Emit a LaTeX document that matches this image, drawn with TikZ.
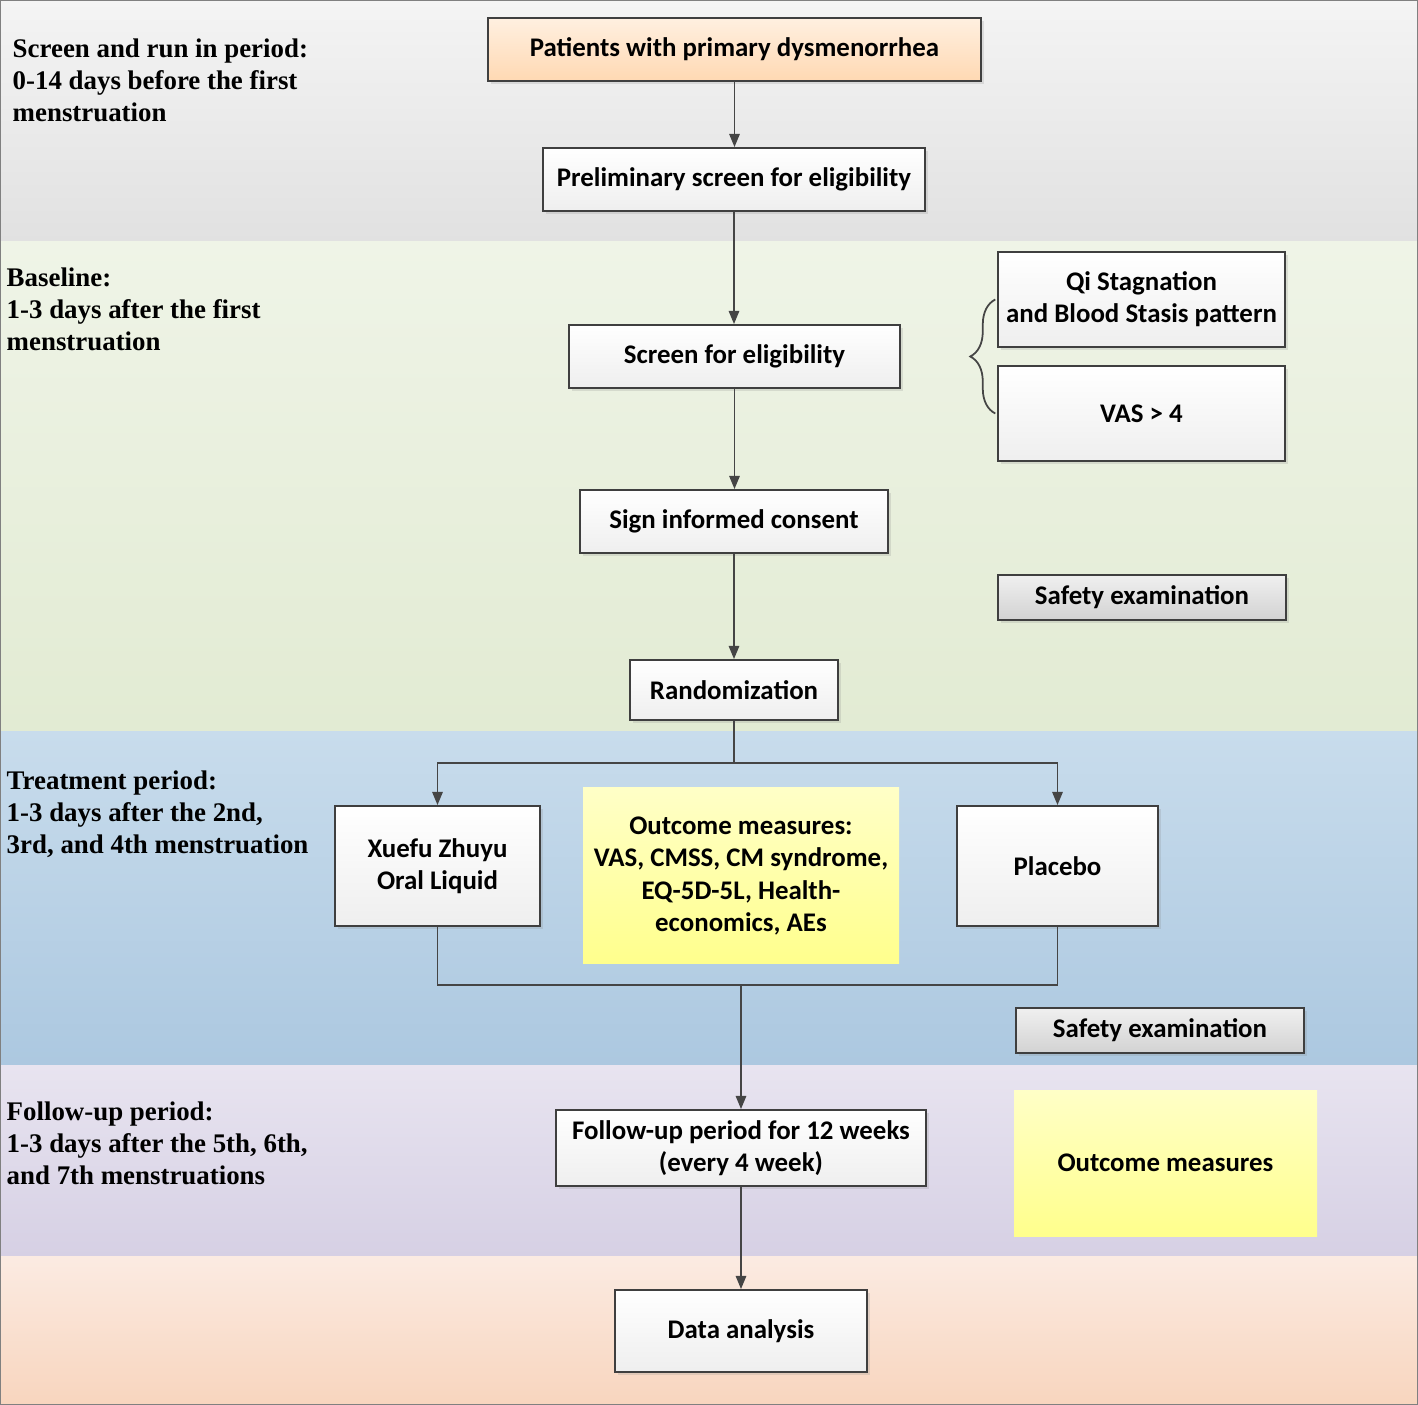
\documentclass[tikz,border=0pt]{standalone}
\usepackage{fontspec}
\setmainfont{Carlito}
\newfontfamily\labelfont{Liberation Serif}
\usetikzlibrary{arrows.meta,shadows,decorations.pathreplacing}
\definecolor{edge}{HTML}{3F3F3F}
\definecolor{linec}{HTML}{454545}
\definecolor{bandAa}{HTML}{F4F4F4}
\definecolor{bandAb}{HTML}{E1E1E1}
\definecolor{bandBa}{HTML}{EFF4E7}
\definecolor{bandBb}{HTML}{E2EBD3}
\definecolor{bandCa}{HTML}{C8DCEC}
\definecolor{bandCb}{HTML}{ACC8E0}
\definecolor{bandDa}{HTML}{E8E4F0}
\definecolor{bandDb}{HTML}{D6D0E4}
\definecolor{bandEa}{HTML}{FBEBE2}
\definecolor{bandEb}{HTML}{F8D5BE}
\tikzset{every picture/.style={line width=0.85pt}}
\tikzset{boxsize/.style 2 args={minimum width=#1*0.02cm, minimum height=#2*0.02cm}}
\tikzset{box/.style={draw=edge, line width=1.1pt, top color=white, bottom color=gray!13,
  drop shadow={shadow xshift=1.5pt, shadow yshift=-1.5pt, opacity=0.2},
  font=\bfseries\fontsize{15.3}{18.3}\selectfont, align=center, inner sep=2pt}}
\tikzset{startbox/.style={box, top color=orange!12, bottom color=orange!30}}
\tikzset{safebox/.style={box, top color=gray!12, bottom color=gray!35}}
\tikzset{outbox/.style={draw=none, top color=yellow!22, bottom color=yellow!45,
  font=\bfseries\fontsize{15.3}{18.3}\selectfont, align=center, inner sep=2pt}}
\tikzset{period/.style={font=\labelfont\bfseries\fontsize{15.3}{18.2}\selectfont,
  align=left, anchor=west, inner sep=0pt}}
\tikzset{arr/.style={draw=linec, -{Triangle[length=7.5pt,width=6pt]}}}
\tikzset{link/.style={draw=linec}}

\begin{document}
\begin{tikzpicture}[x=0.02cm, y=-0.02cm]
\useasboundingbox (0,0) rectangle (1418,1405);
% period bands
\foreach \ya/\yb/\ca/\cb in {0/242/bandAa/bandAb, 242/732/bandBa/bandBb,
  732/1065/bandCa/bandCb, 1065/1256/bandDa/bandDb, 1256/1405/bandEa/bandEb}
  \shade[top color=\ca, bottom color=\cb] (0,\ya) rectangle (1418,\yb);
\draw[gray, line width=0.6pt] (0.5,0.5) rectangle (1417.5,1404.5);

\node[period] (per1) at (12,80) {Screen and run in period:\\0-14 days before the first\\menstruation};
\node[period] (per2) at (6,309) {Baseline:\\1-3 days after the first\\menstruation};
\node[period] (per3) at (6,814) {Treatment period:\\1-3 days after the 2nd,\\3rd, and 4th menstruation};
\node[period] (per4) at (6,1143) {Follow-up period:\\1-3 days after the 5th, 6th,\\and 7th menstruations};

% main flow
\node[startbox, boxsize={493}{63}] (pat) at (734.5,49.5) {Patients with primary dysmenorrhea};
\node[box, boxsize={382}{63}] (prelim) at (734,179.5) {Preliminary screen for eligibility};
\node[box, boxsize={331}{63}] (screen) at (734.5,356.5) {Screen for eligibility};
\node[box, boxsize={308}{63}] (consent) at (734,521.5) {Sign informed consent};
\node[box, boxsize={208}{60}] (rand) at (734,690) {Randomization};
\node[box, boxsize={205}{120}] (xuefu) at (437.5,866) {Xuefu Zhuyu\\Oral Liquid};
\node[outbox, boxsize={316}{176}] (outc) at (741,876) {Outcome measures:\\VAS, CMSS, CM syndrome,\\EQ-5D-5L, Health-\\economics, AEs};
\node[box, boxsize={201}{120}] (placebo) at (1057.5,866) {Placebo};
\node[box, boxsize={370}{76}] (follow) at (741,1148) {Follow-up period for 12 weeks\\(every 4 week)};
\node[box, boxsize={252}{82}] (data) at (741,1331) {Data analysis};

% side boxes
\node[box, boxsize={287}{95}] (qi) at (1141.5,299.5) {Qi Stagnation\\and Blood Stasis pattern};
\node[box, boxsize={287}{95}] (vas) at (1141.5,413.5) {VAS > 4};
\node[safebox, boxsize={288}{45}] (safe1) at (1142,597.5) {Safety examination};
\node[safebox, boxsize={288}{45}] (safe2) at (1160,1030.5) {Safety examination};
\node[outbox, boxsize={303}{146}] (outc2) at (1165.5,1163) {Outcome measures};

\draw[linec, line width=1pt, decorate, decoration={brace, amplitude=0.5cm}]
  ([xshift=-1pt]vas.west) -- ([xshift=-1pt]qi.west);

\foreach \a/\b in {pat/prelim, prelim/screen, screen/consent, consent/rand}
  \draw[arr] (\a.south) -- (\a.south |- \b.north);

\draw[link] (rand.south) -- ++(0,42) coordinate (split);
\draw[arr] (split) -| (xuefu.north);
\draw[arr] (split) -| (placebo.north);
\draw[link] (xuefu.south) -- ++(0,58) coordinate (joinL) -| (placebo.south);
\draw[arr] (joinL -| follow.north) -- (follow.north);
\draw[arr] (follow.south) -- (data.north);
\end{tikzpicture}
\end{document}
